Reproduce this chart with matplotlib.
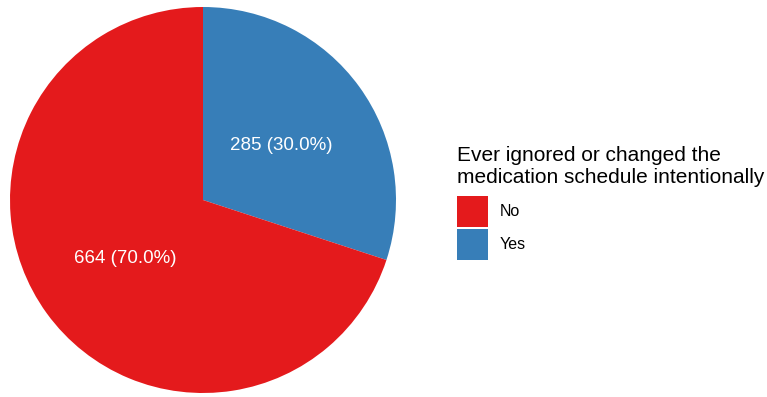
import matplotlib
matplotlib.use('Agg')
import matplotlib.pyplot as plt
from matplotlib.patches import Patch

# ===== DATA =====
categories = ['Yes', 'No']
counts = [285, 664]
colors = ['#377EB8', '#E41A1C']
legend_order = ['No', 'Yes']
legend_title = 'Ever ignored or changed the\nmedication schedule intentionally'

plt.rcParams['font.family'] = ['Liberation Sans', 'DejaVu Sans']

W, H = 767, 397
fig = plt.figure(figsize=(W / 100, H / 100), dpi=100)

cx, cy, r = 203, 200, 193
ax = fig.add_axes([(cx - r) / W, (H - cy - r) / H, 2 * r / W, 2 * r / H])

total = sum(counts)


def fmt(pct):
    n = int(round(pct * total / 100.0))
    return f'{n} ({pct:.1f}%)'


wedges, texts, autotexts = ax.pie(
    counts, colors=colors, startangle=90, counterclock=False,
    autopct=fmt, pctdistance=0.5, radius=1,
    wedgeprops=dict(linewidth=0),
    textprops=dict(color='white', fontsize=13.5))
for t in autotexts:
    t.set_va('center_baseline')
ax.set_xlim(-1, 1)
ax.set_ylim(-1, 1)
ax.set_aspect('equal')
ax.axis('off')

# legend keys ~31px squares
color_map = dict(zip(categories, colors))
handles = [Patch(facecolor=color_map[c], edgecolor='none', label=c) for c in legend_order]
leg = fig.legend(handles=handles, title=legend_title, loc='upper left',
                 bbox_to_anchor=(452 / W, 1 - 141 / H), frameon=False,
                 fontsize=11.5, title_fontsize=15, handlelength=1.94,
                 handleheight=2.61, labelspacing=0.11, handletextpad=0.75,
                 borderaxespad=0, borderpad=0.3)
leg._legend_box.align = 'left'
leg._legend_box.sep = 6.5

fig.savefig('out.png', dpi=100)
